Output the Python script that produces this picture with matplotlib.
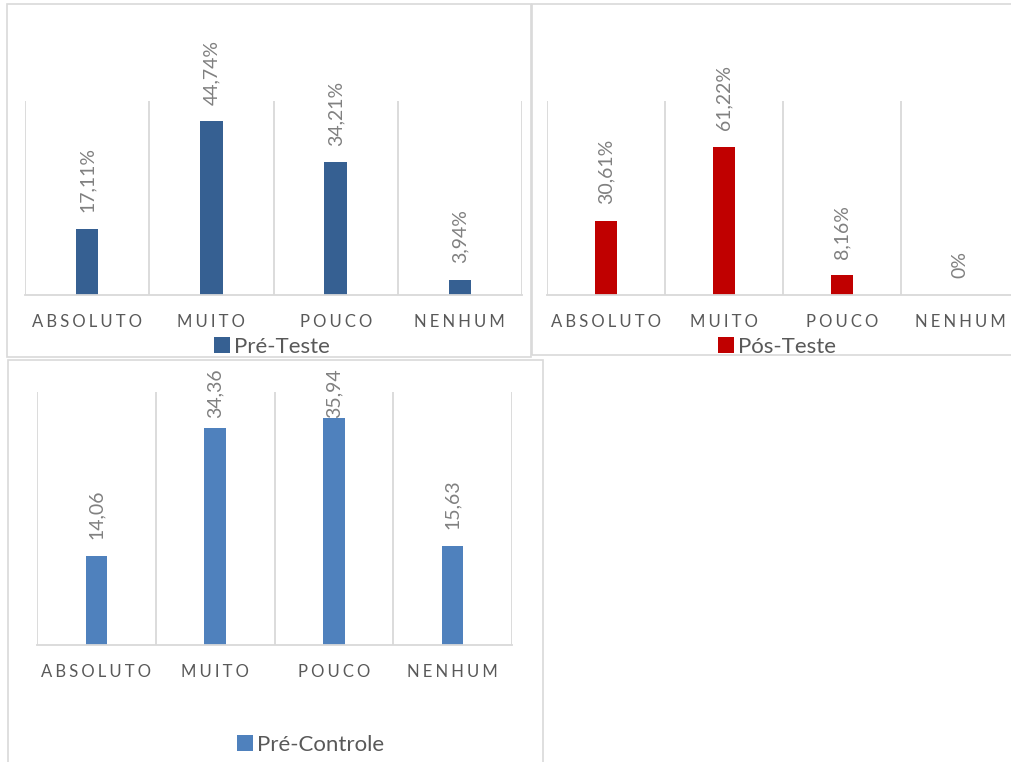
import matplotlib
matplotlib.use("Agg")
import matplotlib.pyplot as plt
from matplotlib.patches import Rectangle

categories = ["ABSOLUTO", "MUITO", "POUCO", "NENHUM"]
pre_teste = [17.11, 44.74, 34.21, 3.94]
pos_teste = [30.61, 61.22, 8.16, 0.0]
pre_controle = [14.06, 34.36, 35.94, 15.63]
pre_teste_labels = ["17,11%", "44,74%", "34,21%", "3,94%"]
pos_teste_labels = ["30,61%", "61,22%", "8,16%", "0%"]
pre_controle_labels = ["14,06", "34,36", "35,94", "15,63"]

FAM = ["Lato", "DejaVu Sans"]
plt.rcParams["font.family"] = FAM

W, H = 1011, 762
fig = plt.figure(figsize=(W / 100, H / 100), dpi=100)

GRID = "#d9d9d9"
AXTXT = "#595959"
LBLTXT = "#808080"


def fx(px):
    return px / W


def fy(py):
    return 1 - py / H


def border(x0, y0, x1, y1):
    fig.patches.append(Rectangle((fx(x0), fy(y1)), fx(x1) - fx(x0), fy(y0) - fy(y1),
                                 transform=fig.transFigure, fill=False,
                                 edgecolor=GRID, linewidth=1.2, zorder=0))


border(7, 4, 531, 357)
border(532, 4, 1015, 355)
border(8, 360, 543, 766)


def spaced(s):
    return "\u2009\u200a".join(s)


def panel(rect, vals, labels, ymax, color, legend_text, legend_xy, ceiling_px):
    x0, y0, x1, y1 = rect
    ax = fig.add_axes([fx(x0), fy(y1), fx(x1) - fx(x0), fy(y0) - fy(y1)])
    xs = list(range(len(vals)))
    ax.bar(xs, vals, width=0.18, color=color, zorder=2, label=legend_text)
    ax.set_xlim(-0.5, len(vals) - 0.5)
    ax.set_ylim(0, ymax)
    for s in ["top", "left", "right"]:
        ax.spines[s].set_visible(False)
    ax.spines["bottom"].set_color(GRID)
    ax.spines["bottom"].set_linewidth(1.3)
    for b in [i - 0.5 for i in range(len(vals) + 1)]:
        ax.axvline(b, color=GRID, linewidth=1.3, zorder=1)
    ax.set_yticks([])
    ax.set_xticks(xs)
    ax.set_xticklabels([spaced(c) for c in categories], fontsize=12, color=AXTXT)
    ax.tick_params(axis="x", length=0, pad=14)
    texts = []
    for x, v, t in zip(xs, vals, labels):
        tt = ax.annotate(t, (x, v), xytext=(0, 12), textcoords="offset points",
                         rotation=90, ha="center", va="bottom", fontsize=14,
                         color=LBLTXT, annotation_clip=False)
        texts.append(tt)
    ax.legend(loc="center", bbox_to_anchor=(fx(legend_xy[0]), fy(legend_xy[1])),
              bbox_transform=fig.transFigure, frameon=False, fontsize=16,
              handlelength=0.7, handleheight=0.7, handletextpad=0.2,
              labelcolor=AXTXT, borderpad=0)
    return ax, texts, ceiling_px


p1 = panel((25, 101, 522, 295), pre_teste, pre_teste_labels, 50, "#366092",
           "Pré-Teste", (272, 347), 30)
p2 = panel((547, 101, 1019, 295), pos_teste, pos_teste_labels, 80, "#C00000",
           "Pós-Teste", (777, 347), 30)
p3 = panel((37, 392, 512, 645), pre_controle, pre_controle_labels, 40, "#4F81BD",
           "Pré-Controle", (311, 745), 368)

fig.canvas.draw()
r = fig.canvas.get_renderer()
for ax, texts, ceil in (p1, p2, p3):
    for t in texts:
        bb = t.get_window_extent(r)
        top_px = H - bb.y1
        if top_px < ceil:
            shift = (ceil - top_px) * 72 / 100
            ox, oy = t.xyann
            t.xyann = (ox, oy - shift)

fig.savefig("out.png", dpi=100)
